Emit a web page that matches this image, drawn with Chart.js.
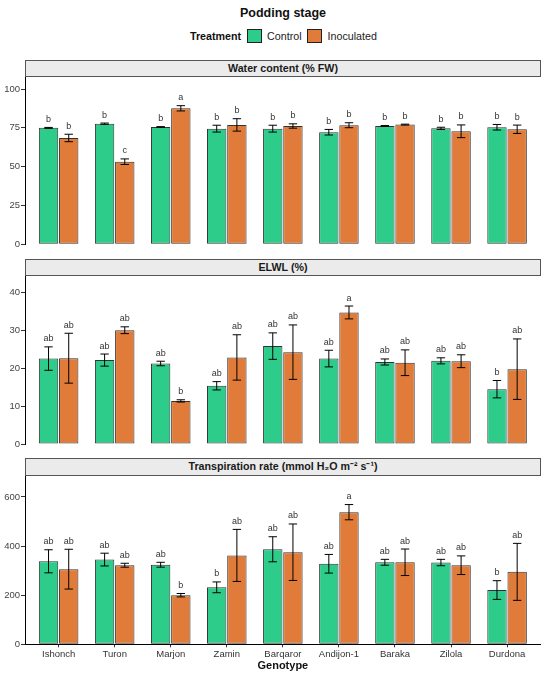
<!DOCTYPE html>
<html>
<head>
<meta charset="utf-8">
<script src="https://cdn.jsdelivr.net/npm/chart.js@4.4.1/dist/chart.umd.min.js"></script>
<style>
  body { margin: 0; background: #fff; font-family: "Liberation Sans", Arial, sans-serif; }
  #page { position: relative; width: 550px; height: 678px; overflow: hidden; }
  canvas { position: absolute; left: 0; }
  .title { position: absolute; left: 0; width: 566px; top: 5.5px; text-align: center; font-weight: bold; font-size: 12.5px; color: #111; line-height: 15px; }
  .legend { position: absolute; left: 190px; top: 29px; height: 14px; display: flex; align-items: center; font-size: 10.7px; color: #222; }
  .legend b { margin-right: 5.5px; color: #111; }
  .legend .key { width: 13px; height: 12px; border: 1px solid #222; margin-right: 5.5px; }
  .legend span { margin-right: 5.5px; }
  .strip { position: absolute; left: 25px; width: 516px; height: 17.3px; box-sizing: border-box; border: 1px solid #555;
           background: #ebebeb; font-weight: bold; font-size: 10.7px; color: #1a1a1a; text-align: center; line-height: 15.3px; z-index: 2; }
</style>
</head>
<body>
<div id="page">
  <div class="title">Podding stage</div>
  <div class="legend">
    <b>Treatment</b>
    <div class="key" style="background:#2ecc8a"></div><span>Control</span>
    <div class="key" style="background:#e07b39"></div><span>Inoculated</span>
  </div>

  <div class="strip" style="top:59.5px">Water content (% FW)</div>
  <canvas id="waterChart" width="550" height="186" style="top:66px"></canvas>

  <div class="strip" style="top:258.5px">ELWL (%)</div>
  <canvas id="elwlChart" width="550" height="187" style="top:265px"></canvas>

  <div class="strip" style="top:458.3px">Transpiration rate (mmol H₂O m⁻² s⁻¹)</div>
  <canvas id="transChart" width="550" height="213" style="top:465px"></canvas>
</div>

<script>
// data
const genotypes = ['Ishonch', 'Turon', 'Marjon', 'Zamin', 'Barqaror', 'Andijon-1', 'Baraka', 'Zilola', 'Durdona'];

const waterControl = [75.0, 77.7, 75.6, 74.5, 74.5, 72.2, 76.2, 74.7, 75.4];
const waterControlErr = [0.3, 0.4, 0.2, 2.2, 2.2, 1.8, 0.3, 0.7, 1.8];
const waterInoc = [68.5, 53.2, 87.6, 76.9, 76.2, 76.7, 77.1, 72.8, 74.1];
const waterInocErr = [2.4, 1.8, 1.7, 4.0, 1.4, 1.6, 0.3, 4.1, 2.7];
const waterControlLetters = ['b', 'b', 'b', 'b', 'b', 'b', 'b', 'b', 'b'];
const waterInocLetters = ['b', 'c', 'a', 'b', 'b', 'b', 'b', 'b', 'b'];
const waterTicks = [0, 25, 50, 75, 100];

const elwlControl = [22.6, 22.2, 21.3, 15.4, 25.9, 22.6, 21.7, 22.0, 14.5];
const elwlControlErr = [3.1, 1.6, 0.6, 1.1, 3.5, 2.2, 0.8, 0.8, 2.3];
const elwlInoc = [22.7, 30.1, 11.4, 22.9, 24.3, 34.8, 21.5, 21.9, 19.8];
const elwlInocErr = [6.6, 0.9, 0.3, 6.0, 7.2, 1.7, 3.4, 1.7, 8.0];
const elwlControlLetters = ['ab', 'ab', 'ab', 'ab', 'ab', 'ab', 'ab', 'ab', 'b'];
const elwlInocLetters = ['ab', 'ab', 'b', 'ab', 'ab', 'a', 'ab', 'ab', 'ab'];
const elwlTicks = [0, 10, 20, 30, 40];

const transControl = [338, 345, 324, 232, 387, 328, 334, 333, 221];
const transControlErr = [47, 26, 10, 22, 51, 38, 12, 13, 38];
const transInoc = [306, 322, 200, 362, 375, 538, 334, 322, 295];
const transInocErr = [81, 8, 7, 106, 115, 31, 54, 38, 116];
const transControlLetters = ['ab', 'ab', 'ab', 'b', 'ab', 'ab', 'ab', 'ab', 'b'];
const transInocLetters = ['ab', 'ab', 'b', 'ab', 'ab', 'a', 'ab', 'ab', 'ab'];
const transTicks = [0, 200, 400, 600];

const controlColor = '#2ecc8a';
const inocColor = '#e07b39';

// error bars + significance letters
const errorBars = {
    id: 'errorBars',
    afterDatasetsDraw(chart){
        let ctx = chart.ctx;
        let yScale = chart.scales.y;
        ctx.save();
        chart.data.datasets.forEach((ds, di) => {
            let meta = chart.getDatasetMeta(di);
            meta.data.forEach((bar, i) => {
                let v = ds.data[i].y;
                let e = ds.errors[i];
                let top = yScale.getPixelForValue(v + e);
                let bot = yScale.getPixelForValue(v - e);
                ctx.strokeStyle = '#000';
                ctx.lineWidth = 1;
                ctx.beginPath();
                ctx.moveTo(bar.x, top);
                ctx.lineTo(bar.x, bot);
                ctx.moveTo(bar.x - 4.2, top);
                ctx.lineTo(bar.x + 4.2, top);
                ctx.moveTo(bar.x - 4.2, bot);
                ctx.lineTo(bar.x + 4.2, bot);
                ctx.stroke();
                ctx.fillStyle = '#333';
                ctx.font = '9px "Liberation Sans", Arial, sans-serif';
                ctx.textAlign = 'center';
                ctx.textBaseline = 'alphabetic';
                ctx.fillText(ds.letters[i], bar.x, top - 5.5);
            });
        });
        ctx.restore();
    }
};

function toPoints(values){
    return values.map((v, i) => ({x: i, y: v}));
}

function makePanel(id, control, controlErr, controlLetters, inoc, inocErr, inocLetters, ticks, yMax, padTop, padBottom, showX){
    let ctx = document.getElementById(id).getContext('2d');
    let config = {
        type: 'bar',
        data: {
            datasets: [{
                label: 'Control',
                data: toPoints(control),
                errors: controlErr,
                letters: controlLetters,
                backgroundColor: controlColor,
                borderColor: '#333',
                borderWidth: 1,
                borderSkipped: false
            }, {
                label: 'Inoculated',
                data: toPoints(inoc),
                errors: inocErr,
                letters: inocLetters,
                backgroundColor: inocColor,
                borderColor: '#333',
                borderWidth: 1,
                borderSkipped: false
            }]
        },
        options: {
            responsive: false,
            animation: false,
            devicePixelRatio: 1,
            categoryPercentage: 0.72,
            barPercentage: 0.96,
            layout: { padding: { left: 0, right: 9.3, top: padTop, bottom: padBottom } },
            plugins: {
                legend: { display: false },
                tooltip: { enabled: false }
            },
            scales: {
                x: {
                    type: 'linear',
                    display: showX,
                    min: -0.6,
                    max: 8.6,
                    offset: false,
                    afterBuildTicks: (s) => { s.ticks = genotypes.map((g, i) => ({value: i})); },
                    afterFit: (s) => { s.height = showX ? 33.7 : 0; },
                    ticks: {
                        autoSkip: false,
                        maxRotation: 0,
                        padding: 1,
                        color: '#333',
                        font: { family: '"Liberation Sans", Arial, sans-serif', size: 9.5 },
                        callback: (v) => genotypes[v]
                    },
                    grid: { offset: false, drawOnChartArea: false, drawTicks: true, tickLength: 3, color: '#333' },
                    border: { display: true, color: '#000', width: 1 },
                    title: {
                        display: true,
                        text: 'Genotype',
                        color: '#111',
                        padding: { top: 5.5, bottom: 5.5 },
                        font: { family: '"Liberation Sans", Arial, sans-serif', size: 11, weight: 'bold' }
                    }
                },
                y: {
                    min: 0,
                    max: yMax,
                    afterBuildTicks: (s) => { s.ticks = ticks.map(v => ({value: v})); },
                    afterFit: (s) => { s.width = 25; },
                    ticks: {
                        padding: 1,
                        color: '#444',
                        font: { family: '"Liberation Sans", Arial, sans-serif', size: 9.5 }
                    },
                    grid: { drawOnChartArea: false, drawTicks: true, tickLength: 4, color: '#333' },
                    border: { display: true, color: '#000', width: 1 }
                }
            }
        },
        plugins: [errorBars]
    };
    return new Chart(ctx, config);
}

makePanel('waterChart', waterControl, waterControlErr, waterControlLetters,
    waterInoc, waterInocErr, waterInocLetters, waterTicks, 107.9, 10.8, 7.7, false);
makePanel('elwlChart', elwlControl, elwlControlErr, elwlControlLetters,
    elwlInoc, elwlInocErr, elwlInocLetters, elwlTicks, 44.5, 10.8, 8, false);
makePanel('transChart', transControl, transControlErr, transControlLetters,
    transInoc, transInocErr, transInocLetters, transTicks, 687, 10.6, 0, true);
</script>
</body>
</html>
